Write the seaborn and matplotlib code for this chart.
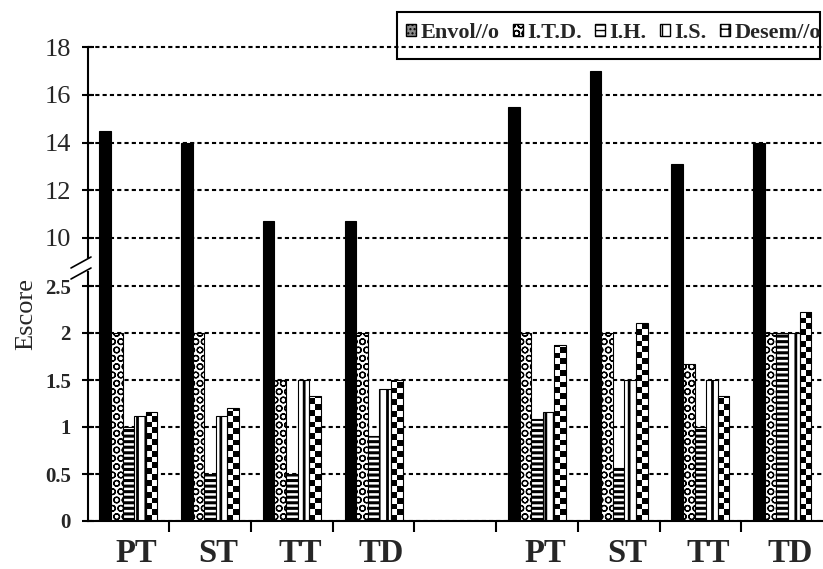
import numpy as np
import pandas as pd
import matplotlib
matplotlib.use('Agg')
import matplotlib.pyplot as plt
from matplotlib.patches import Patch, Rectangle
from matplotlib.lines import Line2D
from matplotlib.transforms import ScaledTranslation
import seaborn as sns

# dados ---------------------------------------------------------------
slot_keys = ['PT1', 'ST1', 'TT1', 'TD1', 'gap', 'PT2', 'ST2', 'TT2', 'TD2']
tick_labels = ['PT', 'ST', 'TT', 'TD', '', 'PT', 'ST', 'TT', 'TD']
groups = ['PT1', 'ST1', 'TT1', 'TD1', 'PT2', 'ST2', 'TT2', 'TD2']
series = ['Envol//o', 'I.T.D.', 'I.H.', 'I.S.', 'Desem//o']

envol = [14.5, 14.0, 10.7, 10.7, 15.5, 17.0, 13.1, 14.0]
itd = [2.0, 2.0, 1.5, 2.0, 2.0, 2.0, 1.67, 2.0]
ih = [1.0, 0.5, 0.5, 0.9, 1.09, 0.56, 1.0, 2.0]
i_s = [1.12, 1.12, 1.5, 1.4, 1.16, 1.5, 1.5, 2.0]
desem = [1.16, 1.2, 1.33, 1.5, 1.87, 2.11, 1.33, 2.22]

upper_ticks = [10, 12, 14, 16, 18]
lower_ticks = [0, 0.5, 1, 1.5, 2, 2.5]
lower_tick_labels = ['0', '0.5', '1', '1.5', '2', '2.5']

rows = []
for name, vals in zip(series, [envol, itd, ih, i_s, desem]):
    for g, v in zip(groups, vals):
        rows.append({'grupo': g, 'serie': name, 'escore': v})
df = pd.DataFrame(rows)

sns.set_theme(style='white')
plt.rcParams['font.family'] = ['Liberation Serif', 'DejaVu Serif']
plt.rcParams['hatch.linewidth'] = 1.0

pal = {'Envol//o': 'black', 'I.T.D.': 'white', 'I.H.': 'white',
       'I.S.': 'white', 'Desem//o': 'white'}
hatches = [None, 'OO', '---', '||', None]
hatch_lw = [1.0, 0.9, 2.2, 2.0, 1.0]

W, H = 823, 569
fig = plt.figure(figsize=(8.23, 5.69), dpi=100)
left = 87.5 / W
ax_top = fig.add_axes([left, 1 - 264 / H, 1 - left, (264 - 47) / H])
ax_bot = fig.add_axes([left, 1 - 521 / H, 1 - left, (521 - 264) / H])


def set_hlw(p, lw):
    if hasattr(p, 'set_hatch_linewidth'):
        p.set_hatch_linewidth(lw)


for ax in [ax_top, ax_bot]:
    sns.barplot(data=df, x='grupo', y='escore', hue='serie', order=slot_keys,
                hue_order=series, palette=pal, width=0.71, errorbar=None,
                saturation=1, edgecolor='black', linewidth=0.8, legend=False, ax=ax)
    for i, cont in enumerate(ax.containers):
        for bar in cont:
            if hatches[i]:
                bar.set_hatch(hatches[i])
                set_hlw(bar, hatch_lw[i])
    ax.set_xlim(-0.5, 8.5)
    ax.set_xlabel('')
    ax.set_ylabel('')
    ax.set_axisbelow(True)
    ax.yaxis.grid(True, color='black', linestyle=(0, (2, 1.5)), linewidth=1.5)
    ax.xaxis.grid(False)
    for s in ['top', 'right']:
        ax.spines[s].set_visible(False)
    ax.spines['left'].set_linewidth(1.5)
    ax.spines['left'].set_color('black')
    ax.tick_params(axis='y', which='major', direction='inout', length=8,
                   width=1.5, color='black', left=True, pad=8)
    ax.patch.set_alpha(0)

# eixo superior
ax_top.set_ylim(10 - (264 - 238) / 23.875, 18)
ax_top.set_yticks(upper_ticks)
ax_top.set_yticklabels([str(t) for t in upper_ticks], fontsize=19)
ax_top.spines['bottom'].set_visible(False)
ax_top.set_xticks([])
ax_top.spines['left'].set_bounds(9.2, 18)
for line in ax_top.get_ygridlines():
    line.set_clip_on(False)

# eixo inferior
ax_bot.set_ylim(0, 2.5 + (286 - 264) / 94)
ax_bot.set_yticks(lower_ticks)
ax_bot.set_yticklabels(lower_tick_labels, fontsize=15, fontweight='bold')
ax_bot.spines['left'].set_bounds(0, 2.65)
ax_bot.spines['bottom'].set_linewidth(1.5)
ax_bot.spines['bottom'].set_color('black')
ax_bot.set_xticks(range(len(slot_keys)))
ax_bot.set_xticklabels(tick_labels, fontsize=23.5, fontweight='bold')
ax_bot.set_xticks(np.arange(0.5, 8, 1), minor=True)
ax_bot.tick_params(axis='x', which='major', length=0, pad=12)
ax_bot.tick_params(axis='x', which='minor', direction='out', length=8,
                   width=1.5, color='black', bottom=True)
shift = ScaledTranslation(8 / 100, 0, fig.dpi_scale_trans)
for lab in ax_bot.get_xticklabels():
    lab.set_transform(lab.get_transform() + shift)

# padrão xadrez para Desem//o
fig.canvas.draw()
sx = ax_bot.transData.transform((1, 0))[0] - ax_bot.transData.transform((0, 0))[0]
sy = ax_bot.transData.transform((0, 1))[1] - ax_bot.transData.transform((0, 0))[1]
for bar in ax_bot.containers[4]:
    w = bar.get_width()
    h = bar.get_height()
    cell_y = (w * sx / 2) / sy
    n = int(np.ceil(h / cell_y))
    arr = np.indices((n, 2)).sum(axis=0) % 2
    im = ax_bot.imshow(arr, cmap='gray', origin='lower', aspect='auto',
                       interpolation='nearest',
                       extent=(bar.get_x(), bar.get_x() + w, 0, n * cell_y),
                       zorder=bar.get_zorder() - 0.1)
    im.set_clip_path(bar)
    bar.set_facecolor('none')
ax_bot.set_xlim(-0.5, 8.5)
ax_bot.set_ylim(0, 2.5 + (286 - 264) / 94)

# quebra do eixo
for dy in [0, 11]:
    fig.add_artist(Line2D([71 / W, 91 / W], [1 - (268 + dy) / H, 1 - (257 + dy) / H],
                          color='black', lw=1.2))

fig.text(26 / W, 1 - 314 / H, 'Escore', rotation=90, fontsize=19,
         ha='center', va='center')

# legenda
handles = [
    Patch(facecolor='#8c8c8c', edgecolor='black', hatch='....'),
    Patch(facecolor='white', edgecolor='black', hatch='OO'),
    Patch(facecolor='white', edgecolor='black', hatch='---'),
    Patch(facecolor='white', edgecolor='black', hatch='||'),
    Patch(facecolor='white', edgecolor='black', hatch='++'),
]
fig.legend(handles=handles, labels=series, loc='center left',
           bbox_to_anchor=(406 / W, 1 - 33 / H), ncol=5, frameon=False,
           prop={'family': 'Liberation Serif', 'weight': 'bold', 'size': 16},
           handlelength=0.45, handleheight=0.45, handletextpad=0.2,
           columnspacing=0.6, borderpad=0, borderaxespad=0)
fig.add_artist(Rectangle((397 / W, 1 - 59 / H), (820 - 397) / W, 47 / H,
                         transform=fig.transFigure, fill=False,
                         edgecolor='black', lw=1.5))

fig.savefig('out.png', dpi=100)
